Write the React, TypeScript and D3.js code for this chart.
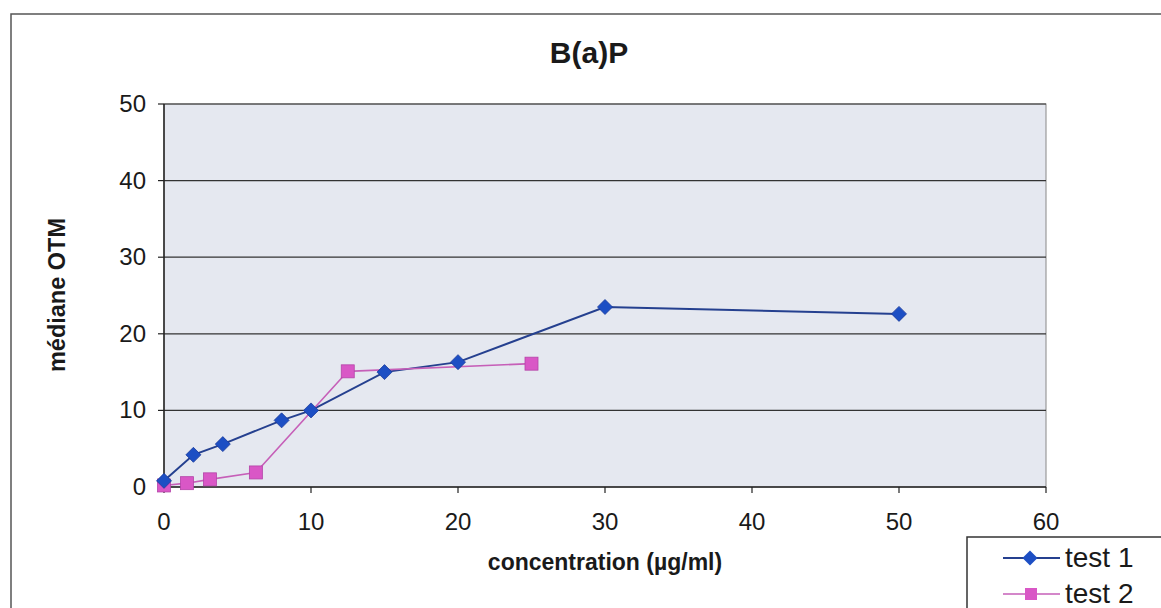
import React from "react";
import * as d3 from "d3";

const test1X = [0, 2, 4, 8, 10, 15, 20, 30, 50];
const test1Y = [0.8, 4.2, 5.6, 8.7, 10.0, 15.0, 16.3, 23.5, 22.6];
const test2X = [0, 1.5625, 3.125, 6.25, 12.5, 25];
const test2Y = [0.2, 0.5, 1.0, 1.9, 15.1, 16.1];
const xTicks = [0, 10, 20, 30, 40, 50, 60];
const yTicks = [0, 10, 20, 30, 40, 50];
const seriesNames = ["test 1", "test 2"];

export default function App() {
  const W = 1161, H = 608;
  const left = 164, right = 1046, top = 104, bottom = 487;
  const x = d3.scaleLinear().domain([0, 60]).range([left, right]);
  const y = d3.scaleLinear().domain([0, 50]).range([bottom, top]);
  const line = d3.line<[number, number]>().x(d => x(d[0])).y(d => y(d[1]));
  const s1 = test1X.map((v, i) => [v, test1Y[i]] as [number, number]);
  const s2 = test2X.map((v, i) => [v, test2Y[i]] as [number, number]);
  const blueLine = "#25408f", blueMark = "#1d4fc4";
  const pinkLine = "#c65fb8", pinkMark = "#d957c6";
  const font = "Liberation Sans, Arial, sans-serif";
  const diamond = (cx: number, cy: number, r: number) =>
    `M${cx},${cy - r}L${cx + r},${cy}L${cx},${cy + r}L${cx - r},${cy}Z`;
  return (
    <svg width={W} height={H} style={{ position: "absolute", left: 0, top: 0, background: "#fff" }} fontFamily={font}>
      <rect x={11} y={14} width={1180} height={620} fill="#fff" stroke="#555" strokeWidth={1.5} />
      <text x={589} y={63} textAnchor="middle" fontSize={30} fontWeight="bold" fill="#1a1a1a">B(a)P</text>
      <rect x={left} y={top} width={right - left} height={bottom - top} fill="#e5e8f0" stroke="#888" strokeWidth={1} />
      {yTicks.map(t => (
        <g key={"y" + t}>
          {t > 0 && <line x1={left} x2={right} y1={y(t)} y2={y(t)} stroke="#333" strokeWidth={1.2} />}
          <line x1={left - 6} x2={left} y1={y(t)} y2={y(t)} stroke="#222" strokeWidth={1.2} />
          <text x={146} y={y(t) + 8} textAnchor="end" fontSize={24} fill="#1a1a1a">{t}</text>
        </g>
      ))}
      <line x1={left} x2={left} y1={top} y2={bottom} stroke="#222" strokeWidth={1.5} />
      <line x1={left} x2={right} y1={bottom} y2={bottom} stroke="#222" strokeWidth={1.5} />
      {xTicks.map(t => (
        <g key={"x" + t}>
          <line x1={x(t)} x2={x(t)} y1={bottom} y2={bottom + 6} stroke="#222" strokeWidth={1.2} />
          <text x={x(t)} y={530} textAnchor="middle" fontSize={24} fill="#1a1a1a">{t}</text>
        </g>
      ))}
      <text x={605} y={570} textAnchor="middle" fontSize={23} fontWeight="bold" fill="#1a1a1a">concentration (µg/ml)</text>
      <text transform={`translate(65,295) rotate(-90)`} textAnchor="middle" fontSize={23.5} fontWeight="bold" fill="#1a1a1a">médiane OTM</text>
      <path d={line(s1) || ""} fill="none" stroke={blueLine} strokeWidth={2} />
      <path d={line(s2) || ""} fill="none" stroke={pinkLine} strokeWidth={1.6} />
      {s2.map((d, i) => (
        <rect key={"p" + i} x={x(d[0]) - 6.5} y={y(d[1]) - 6.5} width={13} height={13} fill={pinkMark} stroke="#b444a8" strokeWidth={0.8} />
      ))}
      {s1.map((d, i) => (
        <path key={"b" + i} d={diamond(x(d[0]), y(d[1]), 7.5)} fill={blueMark} stroke="#1a3a9a" strokeWidth={0.8} />
      ))}
      <rect x={967} y={537} width={220} height={90} fill="#fff" stroke="#333" strokeWidth={1.5} />
      <line x1={1003} x2={1060} y1={558} y2={558} stroke={blueLine} strokeWidth={2} />
      <path d={diamond(1030, 558, 7.5)} fill={blueMark} />
      <text x={1065} y={567} fontSize={28} fill="#1a1a1a">{seriesNames[0]}</text>
      <line x1={1003} x2={1060} y1={594} y2={594} stroke={pinkLine} strokeWidth={1.6} />
      <rect x={1025} y={588} width={12} height={12} fill={pinkMark} />
      <text x={1065} y={603} fontSize={28} fill="#1a1a1a">{seriesNames[1]}</text>
    </svg>
  );
}
